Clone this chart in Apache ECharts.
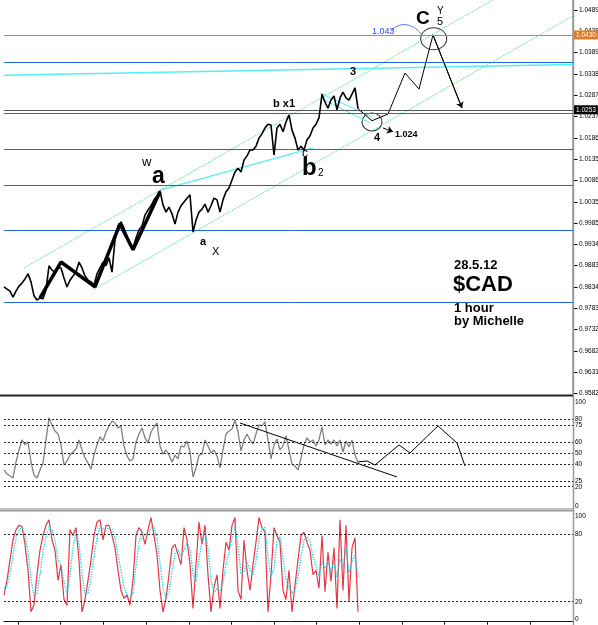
<!DOCTYPE html>
<html>
<head>
<meta charset="utf-8">
<title>$CAD 1 hour</title>
<script src="https://cdn.jsdelivr.net/npm/echarts@6.0.0/dist/echarts.min.js"></script>
<style>
  html, body { margin: 0; padding: 0; background: #fff; }
  #chart { width: 598px; height: 625px; }
</style>
</head>
<body>
<div id="chart"></div>
<script>
// price axis labels (MT4 style)
const priceTicks = ['0.9582', '0.9631', '0.9682', '0.9732', '0.9783', '0.9834', '0.9883', '0.9934', '0.9985',
    '1.0035', '1.0086', '1.0135', '1.0186', '1.0237', '1.0287', '1.0338', '1.0389', '1.0438', '1.0489'];
const rsiTicks = [0, 20, 25, 40, 50, 60, 75, 80, 100];
const rsiLevels = [20, 25, 40, 50, 60, 75, 80];
const stochTicks = [0, 20, 80, 100];
const stochLevels = [20, 80];
const timeTicks = [4.7, 18.9, 33.1, 47.4, 61.6, 75.8, 90.0, 104.2, 118.5, 132.7, 146.9, 161.1, 175.4, 189.6];

// hourly closes
const priceClose = [
    0.9834, 0.9829, 0.9824, 0.9810, 0.9824, 0.9836, 0.9843, 0.9853, 0.9865, 0.9846,
    0.9813, 0.9803, 0.9808, 0.9806, 0.9827, 0.9884, 0.9874, 0.9869, 0.9879, 0.9879,
    0.9855, 0.9834, 0.9850, 0.9860, 0.9869, 0.9893, 0.9879, 0.9860, 0.9850, 0.9846,
    0.9839, 0.9865, 0.9879, 0.9893, 0.9884, 0.9903, 0.9869, 0.9945, 0.9978, 0.9988,
    0.9973, 0.9955, 0.9936, 0.9926, 0.9950, 0.9969, 0.9978, 1.0004, 1.0016, 1.0026,
    1.0040, 1.0049, 1.0061, 1.0028, 1.0011, 1.0023, 1.0007, 0.9983, 1.0011, 1.0026,
    1.0035, 1.0044, 1.0052, 0.9964, 0.9992, 1.0011, 1.0018, 1.0030, 1.0011, 1.0026,
    1.0044, 1.0040, 1.0011, 1.0040, 1.0059, 1.0068, 1.0087, 1.0106, 1.0115, 1.0106,
    1.0134, 1.0144, 1.0158, 1.0158, 1.0167, 1.0186, 1.0196, 1.0210, 1.0219, 1.0217,
    1.0146, 1.0210, 1.0219, 1.0201, 1.0224, 1.0241, 1.0205, 1.0186, 1.0158, 1.0167,
    1.0158, 1.0182, 1.0191, 1.0210, 1.0219, 1.0234, 1.0290, 1.0271, 1.0257, 1.0276,
    1.0286, 1.0253, 1.0281, 1.0295, 1.0281, 1.0276, 1.0290, 1.0305, 1.0256
];

const rsiValues = [
    34.9, 31.3, 29.6, 27.8, 42.0, 52.7, 61.6, 57.2, 59.8, 42.0,
    30.4, 27.8, 34.9, 41.1, 61.6, 81.2, 75.0, 69.6, 66.9, 57.2,
    39.3, 42.9, 48.2, 50.9, 53.6, 61.6, 52.7, 45.6, 41.1, 35.7,
    48.2, 57.2, 64.3, 60.7, 68.7, 74.1, 78.5, 76.7, 72.3, 74.1,
    56.3, 47.4, 42.9, 44.7, 59.8, 66.9, 72.3, 63.4, 58.9, 68.7,
    73.2, 76.7, 56.3, 49.1, 52.7, 48.2, 42.0, 48.2, 44.7, 56.3,
    55.4, 60.7, 50.9, 28.7, 36.7, 48.2, 49.1, 61.6, 56.3, 50.0,
    52.7, 47.4, 36.7, 52.7, 66.9, 69.6, 71.4, 79.4, 68.7, 51.8,
    61.6, 66.9, 61.6, 58.0, 66.9, 75.0, 74.1, 77.6, 61.6, 44.7,
    57.2, 62.5, 52.7, 56.3, 65.2, 52.7, 40.2, 38.4, 34.9, 45.6,
    57.2, 63.4, 59.8, 61.6, 56.3, 61.6, 73.2, 57.2, 61.6, 58.0,
    61.6, 56.3, 61.6, 50.9, 60.7, 55.4, 61.6, 48.2, 42.0
];

const stochK = [
    26, 39, 57, 75, 84, 88, 87, 71, 48, 11,
    17, 44, 66, 79, 88, 93, 75, 66, 39, 53,
    22, 17, 84, 79, 86, 57, 11, 22, 39, 57,
    79, 91, 93, 75, 88, 88, 79, 68, 48, 30,
    23, 26, 17, 39, 79, 86, 82, 71, 84, 95,
    79, 62, 30, 11, 23, 44, 68, 71, 62, 53,
    86, 75, 53, 14, 53, 91, 71, 88, 44, 11,
    33, 44, 14, 48, 73, 66, 88, 95, 30, 22,
    75, 48, 30, 53, 73, 95, 86, 82, 11, 44,
    86, 79, 73, 30, 22, 48, 11, 35, 57, 79,
    82, 73, 66, 44, 48, 32, 79, 29, 64, 38,
    68, 14, 93, 30, 88, 20, 68, 77, 11
];
const stochD = [
    32, 34, 45, 62, 76, 84, 87, 80, 64, 40,
    25, 27, 44, 64, 78, 87, 84, 74, 58, 52,
    38, 27, 44, 68, 82, 72, 45, 27, 27, 42,
    60, 77, 88, 85, 84, 86, 85, 77, 62, 47,
    33, 26, 22, 28, 52, 72, 82, 79, 79, 86,
    86, 76, 55, 33, 22, 29, 47, 63, 66, 60,
    66, 73, 67, 45, 38, 58, 74, 82, 67, 40,
    28, 32, 30, 36, 54, 63, 76, 87, 70, 45,
    47, 55, 49, 44, 56, 76, 85, 86, 60, 42,
    50, 74, 78, 58, 40, 33, 28, 30, 42, 60,
    75, 78, 74, 60, 52, 43, 55, 50, 56, 46,
    56, 42, 58, 50, 68, 46, 56, 62, 42
];

// hand drawn analysis
const waveX = [12, 19, 30.33, 38.67, 43, 52];
const waveY = [0.9808, 0.9893, 0.9834, 0.9983, 0.9922, 1.0059];
const projX = [118, 122.67, 128, 133.67, 138.33, 143, 152.67];
const projY = [1.0256, 1.0227, 1.0243, 1.0340, 1.0302, 1.0430, 1.0257];
const arrow4X = [126.33, 129.67];
const arrow4Y = [1.0210, 1.0201];
const circleX = [122.67, 143.23];
const circleY = [1.0224, 1.0421];
const channelUpperX = [6.67, 189.67];
const channelUpperY = [0.9879, 1.0621];
const channelLowerX = [29.67, 189.67];
const channelLowerY = [0.9827, 1.0475];
const cyanTrendX = [0, 189.67];
const cyanTrendY = [1.0335, 1.0360];
const cyanACX = [52, 103];
const cyanACY = [1.0063, 1.0163];
const cyanSmallAX = [105.33, 122.67];
const cyanSmallAY = [1.0293, 1.0236];
const cyanSmallBX = [106, 122];
const cyanSmallBY = [1.0279, 1.0222];
const targetLevel = 1.0430;
const lastPrice = 1.0253;
const blueLevels = [1.0366, 1.0245, 1.0160, 1.0075, 0.9969, 0.9798];

const rsiProjX = [118, 121, 123.67, 131.67, 135.33, 144.67, 151, 153.67];
const rsiProjY = [42.0, 42.9, 39.3, 57.2, 50.0, 74.1, 58.9, 38.4];
const rsiTrendX = [78.67, 131];
const rsiTrendY = [76.7, 28.7];

function pairs(xs, ys) { return xs.map((x, i) => [x, ys[i]]); }
function seq(vals) { return vals.map((v, i) => [i, v]); }

function initCadChart() {
    const chartDom = document.getElementById('chart');
    const chart = echarts.init(chartDom, null, { renderer: 'canvas' });

    const font = '"Liberation Sans", Arial, sans-serif';
    const xMax = 189.67;
    const priceMin = +priceTicks[0];
    const priceStep = (+priceTicks[priceTicks.length - 1] - priceMin) / (priceTicks.length - 1);
    const priceMax = priceMin + 393.5 / 4228;

    const green = '#33dd77';
    const cyan = '#55eef2';
    const blue = '#1e64e6';

    const T = (text, x, y, size, weight, color) => ({
        type: 'text', x: x, y: y, z: 100,
        style: {
            text: text, font: weight + ' ' + size + 'px ' + font, fill: color || '#000',
            textAlign: 'left', textVerticalAlign: 'middle', align: 'left', verticalAlign: 'middle'
        }
    });
    const hline = (y, color, w, x2) => ({
        type: 'line', z: 90, shape: { x1: 0, y1: y, x2: x2 || 573, y2: y },
        style: { stroke: color, lineWidth: w }
    });
    const xAxisBase = { type: 'value', min: 0, max: xMax, show: false };
    const thinLine = (x, y, color, width, dash) => ({
        type: 'line', data: pairs(x, y), showSymbol: false, silent: true,
        lineStyle: { color: color, width: width, type: dash || 'solid' }
    });
    const levelLine = (levels) => ({
        symbol: 'none', silent: true, animation: false, label: { show: false }, precision: 4,
        lineStyle: { color: '#222', width: 1, type: [2, 2] },
        data: levels.map(l => ({ yAxis: l }))
    });

    const option = {
        animation: false,
        backgroundColor: '#fff',
        grid: [
            { left: 4, right: 25, top: 0, height: 393.5, outerBoundsMode: 'none' },
            { left: 4, right: 25, top: 396.8, height: 112.4, outerBoundsMode: 'none' },
            { left: 4, right: 25, top: 511.9, height: 112.3, outerBoundsMode: 'none' }
        ],
        xAxis: [
            Object.assign({ gridIndex: 0 }, xAxisBase),
            Object.assign({ gridIndex: 1 }, xAxisBase),
            {
                gridIndex: 2, type: 'value', min: 0, max: xMax, offset: -2.5,
                axisLine: { show: true, onZero: false, lineStyle: { color: '#111', width: 1 } },
                axisTick: { show: true, customValues: timeTicks, length: 3, lineStyle: { color: '#111' } },
                axisLabel: { show: false },
                splitLine: { show: false }
            }
        ],
        yAxis: [
            {
                gridIndex: 0, type: 'value', position: 'right',
                min: priceMin, max: priceMax, interval: priceStep,
                axisLine: { show: true, onZero: false, lineStyle: { color: '#999', width: 1.5 } },
                axisTick: { show: true, inside: false, length: 4.5, lineStyle: { color: '#000', width: 1 } },
                splitLine: { show: false },
                axisLabel: {
                    fontSize: 6.5, fontFamily: font, color: '#000', margin: 6, showMaxLabel: false,
                    formatter: function(v) {
                        const k = (v - priceMin) / priceStep;
                        const idx = Math.round(k);
                        if (Math.abs(k - idx) > 0.05) return '';
                        return priceTicks[idx] || '';
                    }
                }
            },
            {
                gridIndex: 1, type: 'value', position: 'right', min: 0, max: 100, interval: 5,
                axisLine: { show: false, onZero: false }, axisTick: { show: false }, splitLine: { show: false },
                axisLabel: {
                    fontSize: 6.5, fontFamily: font, color: '#000', margin: 2,
                    formatter: function(v) {
                        if (rsiTicks.indexOf(v) < 0) return '';
                        if (v === 100) return '{top|100}';
                        if (v === 0) return '{bot|0}';
                        return String(v);
                    },
                    rich: {
                        top: { fontSize: 6.5, fontFamily: font, color: '#000', padding: [10, 0, 0, 0] },
                        bot: { fontSize: 6.5, fontFamily: font, color: '#000', padding: [0, 0, 6, 0] }
                    }
                }
            },
            {
                gridIndex: 2, type: 'value', position: 'right', min: 0, max: 100, interval: 20,
                axisLine: { show: false, onZero: false }, axisTick: { show: false }, splitLine: { show: false },
                axisLabel: {
                    fontSize: 6.5, fontFamily: font, color: '#000', margin: 2,
                    formatter: function(v) {
                        if (stochTicks.indexOf(v) < 0) return '';
                        if (v === 100) return '{top|100}';
                        if (v === 0) return '{bot|0}';
                        return String(v);
                    },
                    rich: {
                        top: { fontSize: 6.5, fontFamily: font, color: '#000', padding: [8, 0, 0, 0] },
                        bot: { fontSize: 6.5, fontFamily: font, color: '#000', padding: [0, 0, 10, 0] }
                    }
                }
            }
        ],
        series: [
            Object.assign(thinLine(channelUpperX, channelUpperY, green, 1, 'dotted'), { xAxisIndex: 0, yAxisIndex: 0 }),
            Object.assign(thinLine(channelLowerX, channelLowerY, green, 1, 'dotted'), { xAxisIndex: 0, yAxisIndex: 0 }),
            Object.assign(thinLine(cyanTrendX, cyanTrendY, cyan, 1.5), { xAxisIndex: 0, yAxisIndex: 0 }),
            Object.assign(thinLine(cyanACX, cyanACY, cyan, 1.3), { xAxisIndex: 0, yAxisIndex: 0 }),
            Object.assign(thinLine(cyanSmallAX, cyanSmallAY, cyan, 1), { xAxisIndex: 0, yAxisIndex: 0 }),
            Object.assign(thinLine(cyanSmallBX, cyanSmallBY, cyan, 1), { xAxisIndex: 0, yAxisIndex: 0 }),
            {
                name: 'USDCAD H1',
                type: 'line', xAxisIndex: 0, yAxisIndex: 0,
                data: seq(priceClose), showSymbol: false, silent: true, z: 5,
                lineStyle: { color: '#000', width: 1.6 },
                markLine: {
                    symbol: 'none', silent: true, animation: false, precision: 4,
                    label: { show: false },
                    data: [
                        {
                            yAxis: targetLevel, lineStyle: { color: '#e07b22', width: 1, type: 'solid' },
                            label: {
                                show: true, position: 'end', distance: 1, formatter: targetLevel.toFixed(4),
                                color: '#fff', backgroundColor: '#e07b22', fontSize: 6.5, fontFamily: font,
                                padding: [1, 2, 1, 2]
                            }
                        },
                        {
                            yAxis: lastPrice, lineStyle: { color: '#555', width: 1, type: 'solid' },
                            label: {
                                show: true, position: 'end', distance: 1, formatter: lastPrice.toFixed(4),
                                color: '#fff', backgroundColor: '#000', fontSize: 6.5, fontFamily: font,
                                padding: [1, 2, 1, 2]
                            }
                        }
                    ].concat(blueLevels.map(v => ({ yAxis: v, lineStyle: { color: blue, width: 1, type: 'solid' } })))
                }
            },
            Object.assign(thinLine(waveX, waveY, '#000', 3.5), { xAxisIndex: 0, yAxisIndex: 0, z: 6 }),
            Object.assign(thinLine(projX, projY, '#000', 1), { xAxisIndex: 0, yAxisIndex: 0 }),
            {
                type: 'lines', coordinateSystem: 'cartesian2d', xAxisIndex: 0, yAxisIndex: 0,
                symbol: ['none', 'arrow'], symbolSize: 6, silent: true,
                lineStyle: { color: '#000', width: 1, opacity: 1 },
                data: [
                    { coords: pairs(projX.slice(-2), projY.slice(-2)) },
                    { coords: pairs(arrow4X, arrow4Y) }
                ]
            },
            {
                type: 'scatter', xAxisIndex: 0, yAxisIndex: 0, silent: true,
                data: pairs(circleX, circleY),
                symbol: 'circle',
                symbolSize: function(val, params) { return params.dataIndex === 0 ? [20, 18] : [26, 22]; },
                itemStyle: { color: 'rgba(0,0,0,0)', borderColor: '#000', borderWidth: 1 }
            },
            // RSI
            {
                type: 'line', xAxisIndex: 1, yAxisIndex: 1, data: seq(rsiValues),
                showSymbol: false, silent: true,
                lineStyle: { color: '#808080', width: 1.3 },
                markLine: levelLine(rsiLevels)
            },
            Object.assign(thinLine(rsiProjX, rsiProjY, '#000', 1), { xAxisIndex: 1, yAxisIndex: 1 }),
            Object.assign(thinLine(rsiTrendX, rsiTrendY, '#000', 1), { xAxisIndex: 1, yAxisIndex: 1 }),
            // Stochastic
            {
                type: 'line', xAxisIndex: 2, yAxisIndex: 2, data: seq(stochK),
                showSymbol: false, silent: true,
                lineStyle: { color: '#e83545', width: 1.2 },
                markLine: levelLine(stochLevels)
            },
            {
                type: 'line', xAxisIndex: 2, yAxisIndex: 2, data: seq(stochD),
                showSymbol: false, silent: true,
                lineStyle: { color: '#00dde6', width: 1.3, type: 'dotted' }
            }
        ],
        graphic: [
            hline(395.5, '#222', 2),
            hline(508.5, '#bbb', 1),
            hline(510.5, '#999', 2),
            { type: 'line', z: 1, shape: { x1: 573.5, y1: 0, x2: 573.5, y2: 625 }, style: { stroke: '#999', lineWidth: 1.5 } },
            {
                type: 'bezierCurve', z: 100,
                shape: { x1: 391, y1: 31, cpx1: 398, cpy1: 22, cpx2: 412, cpy2: 22, x2: 421, y2: 34 },
                style: { stroke: '#5577ff', lineWidth: 1, fill: null }
            },
            T('w', 142, 162, 13, 'normal'),
            T('a', 152, 177, 23, 'bold'),
            T('b x1', 273, 104, 11, 'bold'),
            T('C', 416, 18.5, 19, 'bold'),
            T('Y', 437, 11.5, 10, 'normal'),
            T('5', 437, 22, 11, 'normal'),
            T('1.043', 372, 32, 9, 'normal', '#3344ff'),
            T('3', 350, 72, 11, 'bold'),
            T('4', 374, 138, 11, 'bold'),
            T('1.024', 395, 135, 9, 'bold'),
            T('c', 302, 154, 12, 'normal'),
            T('b', 302, 168.6, 24, 'bold'),
            T('2', 318, 173.5, 10, 'normal'),
            T('a', 200, 242, 11, 'bold'),
            T('X', 212, 252, 11, 'normal'),
            T('28.5.12', 454, 265.5, 13, 'bold'),
            T('$CAD', 453, 284.5, 22, 'bold'),
            T('1 hour', 454, 308.5, 13, 'bold'),
            T('by Michelle', 454, 321.5, 13, 'bold')
        ]
    };

    chart.setOption(option);
    window.addEventListener('resize', function() { chart.resize(); });
}

initCadChart();
</script>
</body>
</html>
